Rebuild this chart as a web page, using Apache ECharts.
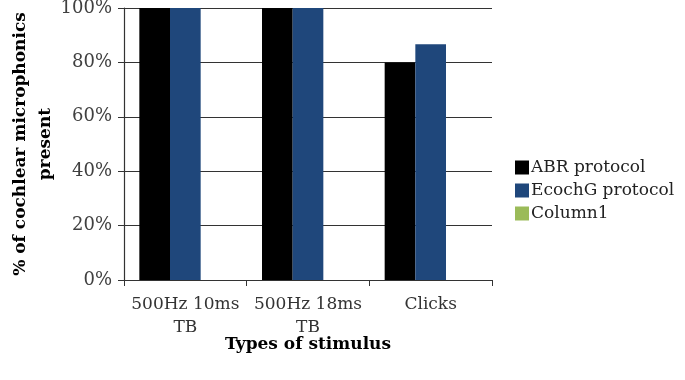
<!DOCTYPE html>
<html>
<head>
<meta charset="utf-8">
<script src="https://cdn.jsdelivr.net/npm/echarts@6/dist/echarts.min.js"></script>
<style>
  html, body { margin: 0; padding: 0; background: #fff; }
  #main { width: 685px; height: 380px; }
</style>
</head>
<body>
<div id="main"></div>
<script>
// data
var categories = ['500Hz 10ms\nTB', '500Hz 18ms\nTB', 'Clicks'];
var abrValues = [100, 100, 80];
var ecochgValues = [100, 100, 86.7];
var column1Values = [null, null, null];
var yTicks = [0, 20, 40, 60, 80, 100];

var font = 'DejaVu Serif';
var chart = echarts.init(document.getElementById('main'));

chart.setOption({
    animation: false,
    textStyle: { fontFamily: font },
    grid: { left: 124, right: 193, top: 8, bottom: 100, outerBoundsMode: 'none', containLabel: false },
    legend: {
        orient: 'vertical',
        left: 510,
        top: 154,
        itemWidth: 14,
        itemHeight: 14,
        itemGap: 6,
        icon: 'rect',
        textStyle: { fontFamily: font, fontSize: 17, color: '#222', padding: [0, 0, 0, -3] },
        data: ['ABR protocol', 'EcochG protocol', 'Column1']
    },
    xAxis: {
        type: 'category',
        data: categories,
        name: 'Types of stimulus',
        nameLocation: 'middle',
        nameGap: 56,
        nameMoveOverlap: false,
        nameTextStyle: { fontFamily: font, fontSize: 17, fontWeight: 'bold', color: '#000' },
        axisLine: { lineStyle: { color: '#333', width: 1.2 } },
        axisTick: { show: true, length: 6, lineStyle: { color: '#333' } },
        axisLabel: { interval: 0, margin: 13, fontFamily: font, fontSize: 17, color: '#333', lineHeight: 23 }
    },
    yAxis: {
        type: 'value',
        min: 0,
        max: 100,
        interval: 20,
        name: '% of cochlear microphonics\npresent',
        nameLocation: 'middle',
        nameGap: 66,
        nameMoveOverlap: false,
        nameTextStyle: { fontFamily: font, fontSize: 17, fontWeight: 'bold', color: '#000', lineHeight: 25, align: 'center' },
        axisLine: { show: true, lineStyle: { color: '#333', width: 1.2 } },
        axisTick: { show: true, length: 6, lineStyle: { color: '#333' } },
        axisLabel: {
            margin: 12,
            fontFamily: font,
            fontSize: 18,
            color: '#404040',
            formatter: function (v) { return yTicks.indexOf(v) >= 0 ? v + '%' : ''; }
        },
        splitLine: { lineStyle: { color: '#333', width: 1 } }
    },
    series: [{
        name: 'ABR protocol',
        type: 'bar',
        data: abrValues,
        barGap: '0%',
        barCategoryGap: '25%',
        itemStyle: { color: '#000000' }
    }, {
        name: 'EcochG protocol',
        type: 'bar',
        data: ecochgValues,
        itemStyle: { color: '#1F477B' }
    }, {
        name: 'Column1',
        type: 'bar',
        data: column1Values,
        itemStyle: { color: '#9BBB59' }
    }]
});
</script>
</body>
</html>
